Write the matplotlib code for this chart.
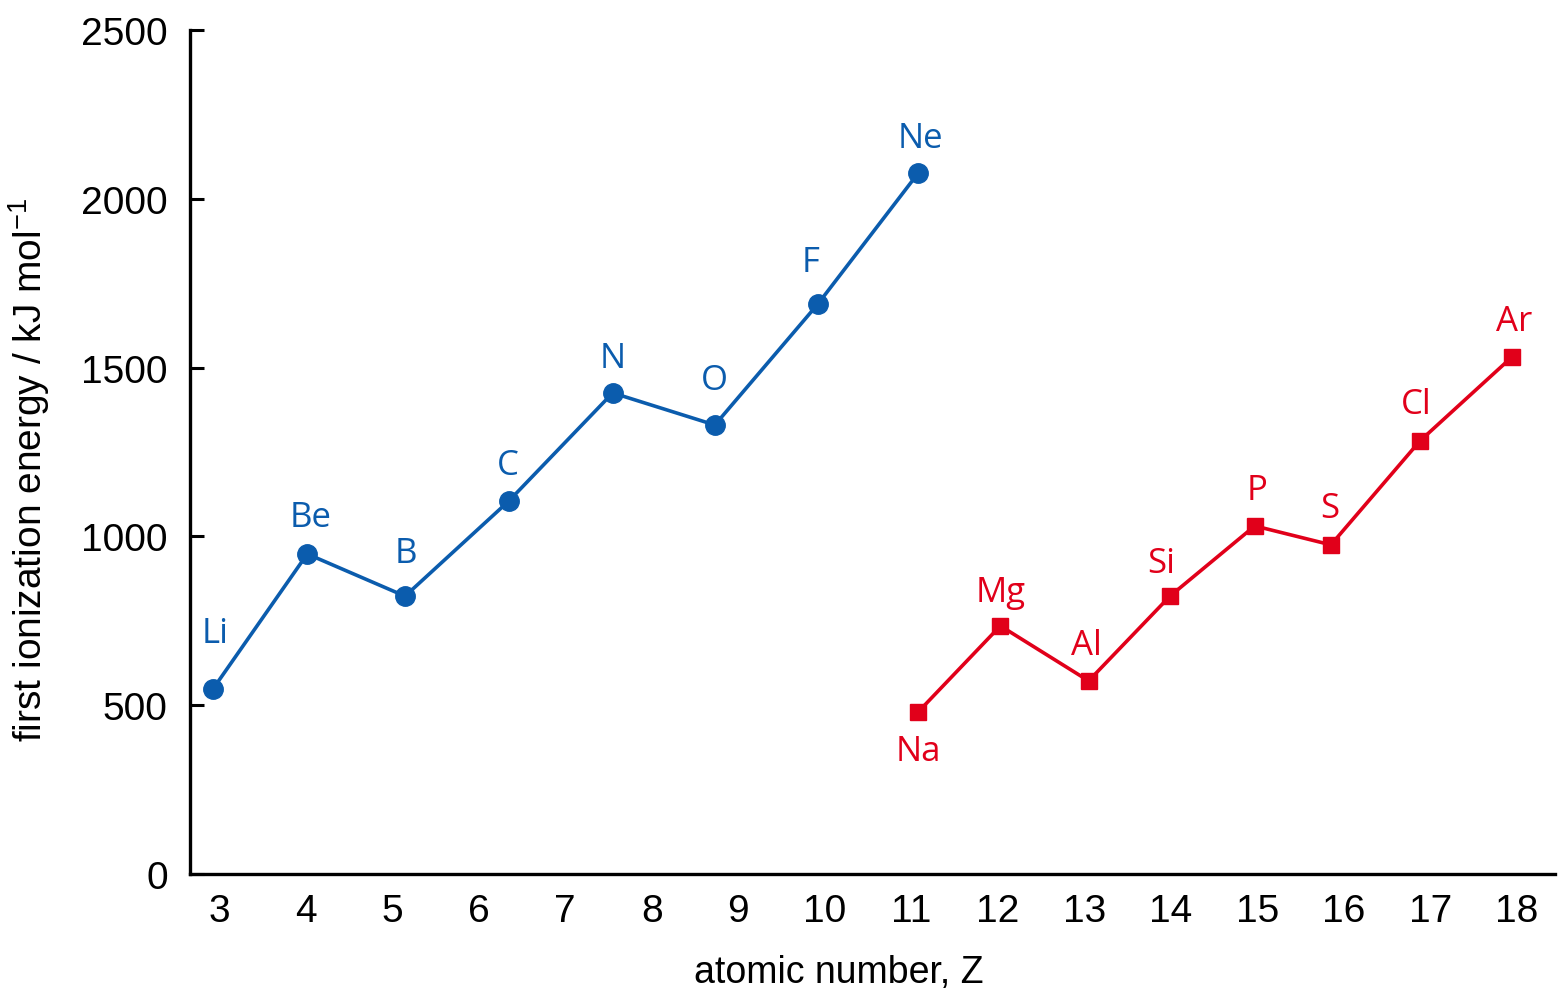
import matplotlib.pyplot as plt

plt.rcParams["mathtext.default"] = "regular"

# period 2 (blue circles) and period 3 (red squares), positions as drawn
period2_symbols = ["Li", "Be", "B", "C", "N", "O", "F", "Ne"]
period2_z = [2.93, 4.02, 5.15, 6.35, 7.55, 8.73, 9.92, 11.08]
period2_energy = [548, 948, 823, 1105, 1425, 1330, 1688, 2076]

period3_symbols = ["Na", "Mg", "Al", "Si", "P", "S", "Cl", "Ar"]
period3_z = [11.08, 12.03, 13.05, 13.99, 14.97, 15.85, 16.88, 17.94]
period3_energy = [480, 735, 572, 823, 1031, 975, 1283, 1531]

x_ticks = list(range(3, 19))
y_ticks = [0, 500, 1000, 1500, 2000, 2500]

# label offsets in pixels (dx, dy) from the marker to the text baseline centre
period2_offsets = [(2, 47), (3, 28), (1, 34), (-1, 27), (0, 26), (0, 36), (-7, 33), (2, 26)]
period3_offsets = [(0, -48), (0, 25), (-2, 27), (-9, 24), (2, 27), (-1, 28), (-4, 28), (2, 27)]

BLUE = "#0B5CAD"
RED = "#E1001A"
tick_font = ["Liberation Sans Narrow", "Liberation Sans", "DejaVu Sans"]
label_font = ["Open Sans", "DejaVu Sans"]
PX = 72 / 100  # pixels -> points

fig = plt.figure(figsize=(15.67, 10.04), dpi=100)
ax = fig.add_axes([190 / 1567, 129 / 1004, 1365 / 1567, 844 / 1004])

ax.plot(period2_z, period2_energy, color=BLUE, lw=2.6, marker="o", ms=14, zorder=3)
ax.plot(period3_z, period3_energy, color=RED, lw=2.6, marker="s", ms=12, zorder=3)

for sym, x, y, (dx, dy) in zip(period2_symbols, period2_z, period2_energy, period2_offsets):
    ax.annotate(sym, (x, y), xytext=(dx * PX, dy * PX), textcoords="offset points",
                ha="center", va="baseline", color=BLUE, fontsize=25, family=label_font)
for sym, x, y, (dx, dy) in zip(period3_symbols, period3_z, period3_energy, period3_offsets):
    ax.annotate(sym, (x, y), xytext=(dx * PX, dy * PX), textcoords="offset points",
                ha="center", va="baseline", color=RED, fontsize=25, family=label_font)

ax.set_xlim(3 + (190 - 219) / 86.53, 3 + (1555 - 219) / 86.53)
ax.set_ylim(0, 2500)
ax.set_xticks(x_ticks)
ax.set_yticks(y_ticks)

for side in ["top", "right"]:
    ax.spines[side].set_visible(False)
for side in ["left", "bottom"]:
    ax.spines[side].set_linewidth(2.4)

ax.tick_params(axis="x", length=0, pad=14)
ax.tick_params(axis="y", direction="in", length=10, width=2.2, pad=16)
for lbl in ax.get_xticklabels() + ax.get_yticklabels():
    lbl.set_family(tick_font)
    lbl.set_fontsize(28)

ax.set_xlabel("atomic number, Z", family=tick_font, fontsize=27)
ax.xaxis.set_label_coords((839 - 190) / 1365, (875 - 955) / 844)
ax.set_ylabel("first ionization energy / kJ mol$^{\u22121}$", family=tick_font, fontsize=28)
ax.yaxis.set_label_coords((52 - 190) / 1365, (875 - 470) / 844)

fig.savefig("out.png", dpi=100)
